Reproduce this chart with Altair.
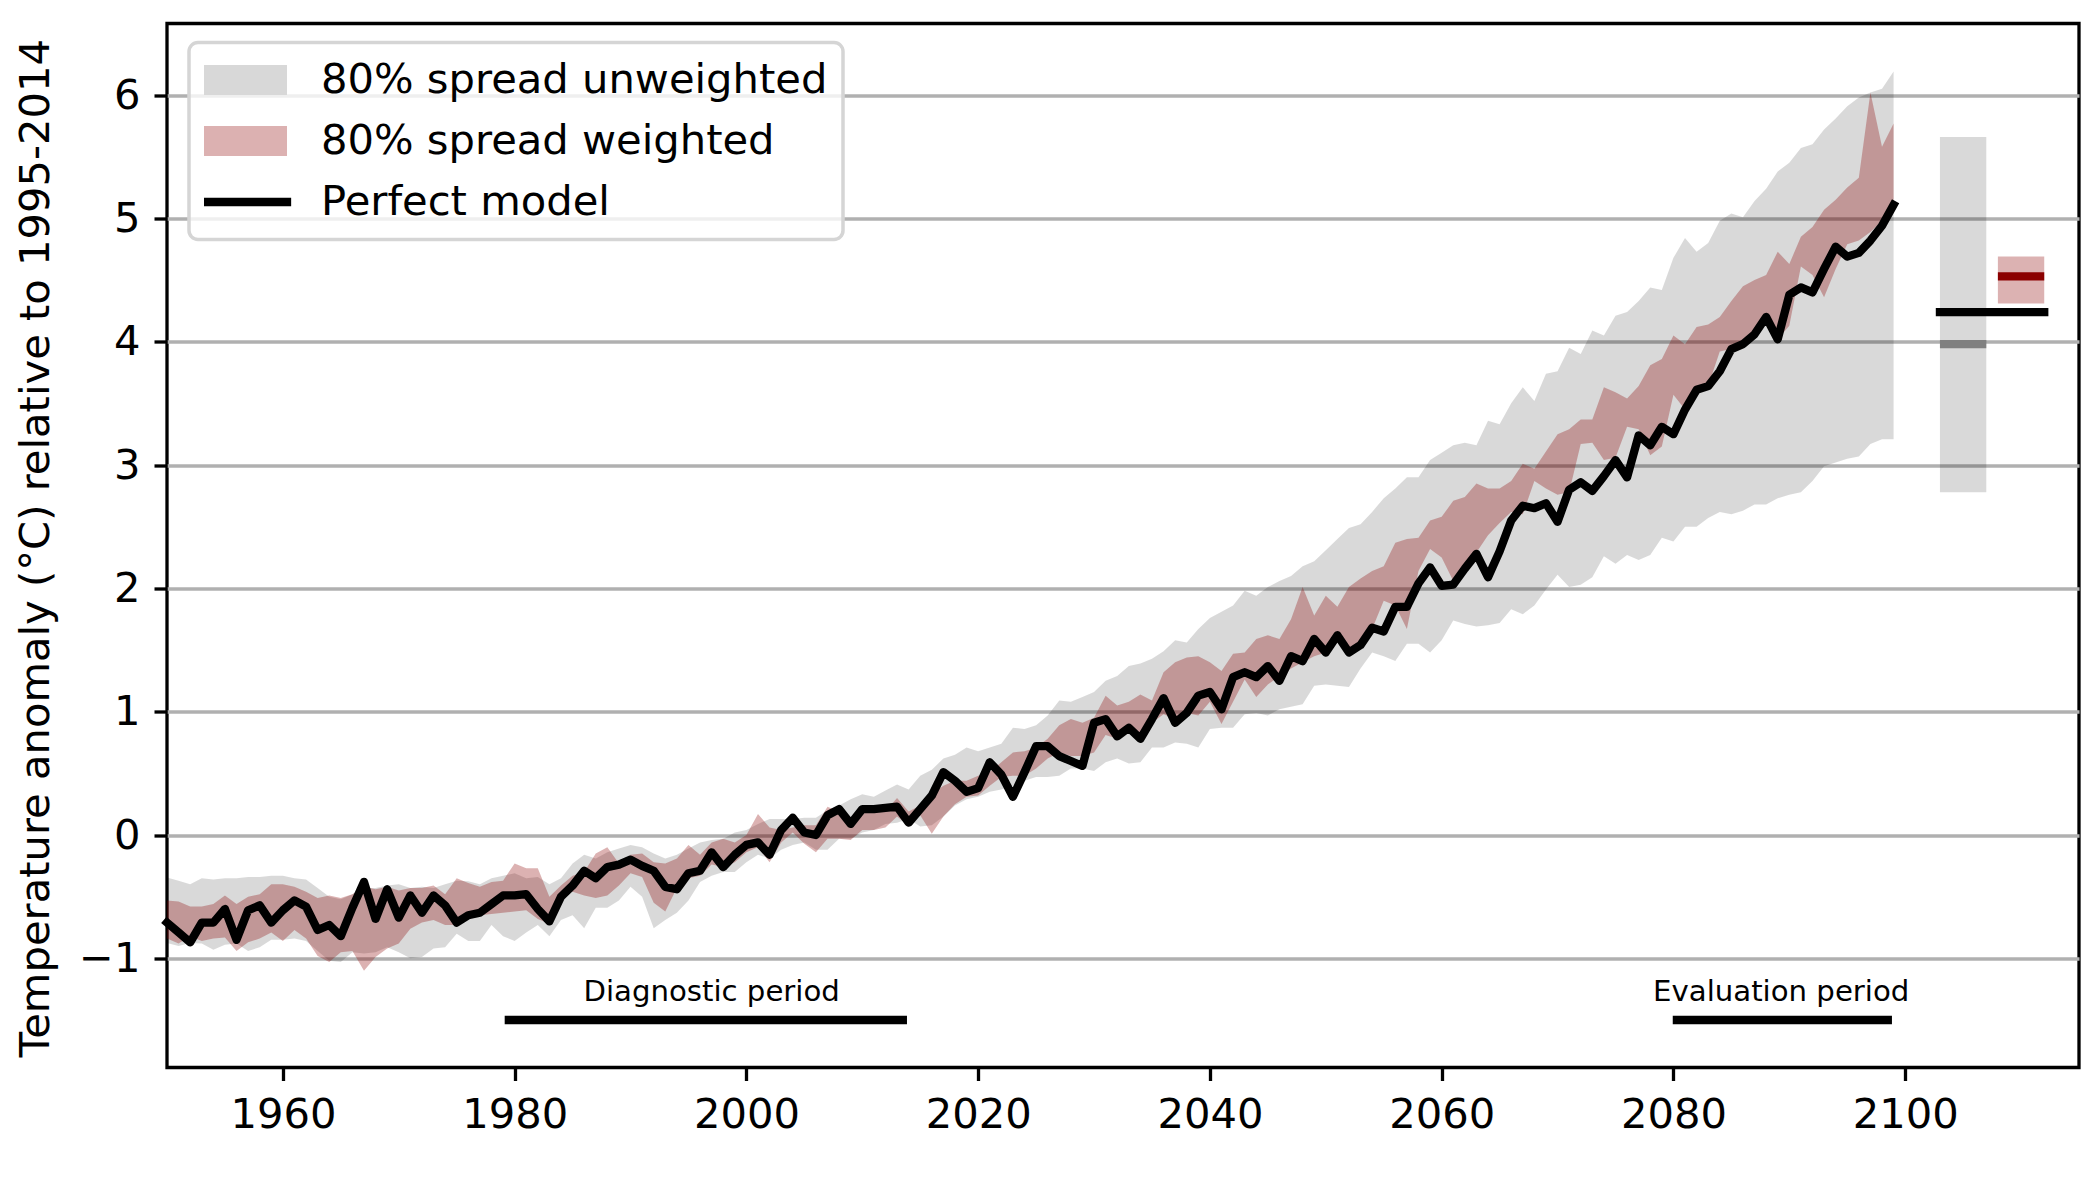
import altair as alt
import pandas as pd

# ---------------------------------------------------------------------------
# Annual global temperature anomaly (°C, relative to 1995-2014), 1950-2099
# ---------------------------------------------------------------------------
YEARS = list(range(1950, 2100))

PERFECT = [
    -0.71, -0.79, -0.87, -0.71, -0.71, -0.60, -0.85, -0.61, -0.57, -0.71,  # 1950s
    -0.61, -0.53, -0.58, -0.77, -0.73, -0.82, -0.59, -0.38, -0.68, -0.44,  # 1960s
    -0.67, -0.49, -0.63, -0.49, -0.57, -0.71, -0.65, -0.63, -0.56, -0.49,  # 1970s
    -0.49, -0.48, -0.60, -0.70, -0.50, -0.41, -0.29, -0.35, -0.26, -0.24,  # 1980s
    -0.20, -0.25, -0.29, -0.42, -0.44, -0.31, -0.29, -0.14, -0.26, -0.16,  # 1990s
    -0.08, -0.06, -0.16, 0.04, 0.14, 0.02, 0.00, 0.16, 0.21, 0.09,  # 2000s
    0.21, 0.21, 0.22, 0.23, 0.10, 0.21, 0.32, 0.51, 0.44, 0.35,  # 2010s
    0.38, 0.59, 0.49, 0.31, 0.51, 0.72, 0.72, 0.64, 0.60, 0.56,  # 2020s
    0.91, 0.94, 0.80, 0.87, 0.78, 0.94, 1.11, 0.91, 0.99, 1.13,  # 2030s
    1.16, 1.02, 1.28, 1.32, 1.28, 1.37, 1.25, 1.45, 1.41, 1.59,  # 2040s
    1.48, 1.62, 1.48, 1.54, 1.68, 1.65, 1.85, 1.85, 2.04, 2.17,  # 2050s
    2.02, 2.03, 2.16, 2.28, 2.09, 2.30, 2.55, 2.67, 2.65, 2.69,  # 2060s
    2.54, 2.80, 2.86, 2.79, 2.91, 3.04, 2.90, 3.24, 3.16, 3.31,  # 2070s
    3.25, 3.45, 3.61, 3.64, 3.76, 3.94, 3.98, 4.06, 4.20, 4.02,  # 2080s
    4.38, 4.44, 4.40, 4.59, 4.77, 4.69, 4.72, 4.82, 4.94, 5.11,  # 2090s
]

# 80% spread of the unweighted ensemble
UNW_LO = [
    -0.875, -0.90, -0.875, -0.88, -0.93, -0.89, -0.88, -0.94, -0.91, -0.85,
    -0.85, -0.84, -0.86, -0.94, -1.02, -1.03, -0.95, -0.96, -0.95, -0.91,
    -0.95, -1.00, -0.99, -0.92, -0.91, -0.80, -0.86, -0.86, -0.73, -0.82,
    -0.86, -0.79, -0.73, -0.82, -0.69, -0.65, -0.755, -0.59, -0.59, -0.53,
    -0.42, -0.50, -0.755, -0.69, -0.63, -0.53, -0.38, -0.33, -0.30, -0.30,
    -0.22, -0.16, -0.19, -0.12, -0.08, -0.06, -0.12, -0.12, -0.03, -0.03,
    0.02, 0.04, 0.09, 0.10, 0.13, 0.07, 0.08, 0.15, 0.24, 0.29,
    0.31, 0.35, 0.37, 0.40, 0.44, 0.47, 0.47, 0.48, 0.54, 0.54,
    0.52, 0.59, 0.62, 0.58, 0.59, 0.71, 0.71, 0.75, 0.74, 0.71,
    0.86, 0.87, 0.87, 0.98, 0.99, 0.97, 1.02, 1.04, 1.06, 1.21,
    1.22, 1.21, 1.20, 1.35, 1.48, 1.45, 1.41, 1.55, 1.55, 1.48,
    1.58, 1.74, 1.71, 1.69, 1.70, 1.72, 1.83, 1.79, 1.86, 1.99,
    2.11, 2.01, 2.03, 2.09, 2.26, 2.20, 2.27, 2.23, 2.27, 2.41,
    2.38, 2.50, 2.50, 2.57, 2.62, 2.60, 2.63, 2.68, 2.68, 2.73,
    2.76, 2.78, 2.87, 2.99, 3.02, 3.05, 3.07, 3.17, 3.21, 3.21,
]
UNW_HI = [
    -0.345, -0.37, -0.40, -0.35, -0.36, -0.35, -0.35, -0.34, -0.34, -0.33,
    -0.33, -0.35, -0.36, -0.43, -0.50, -0.52, -0.48, -0.43, -0.43, -0.41,
    -0.40, -0.43, -0.42, -0.43, -0.40, -0.37, -0.375, -0.40, -0.35, -0.33,
    -0.31, -0.35, -0.34, -0.40, -0.35, -0.23, -0.16, -0.19, -0.14, -0.11,
    -0.08, -0.10, -0.15, -0.19, -0.16, -0.11, -0.06, -0.04, -0.03, 0.02,
    0.04, 0.09, 0.13, 0.13, 0.13, 0.14, 0.14, 0.20, 0.24, 0.29,
    0.33, 0.31, 0.36, 0.41, 0.37, 0.48, 0.53, 0.62, 0.65, 0.71,
    0.68, 0.71, 0.74, 0.87, 0.86, 0.89, 0.97, 1.09, 1.08, 1.12,
    1.16, 1.25, 1.29, 1.37, 1.39, 1.43, 1.49, 1.58, 1.56, 1.67,
    1.76, 1.81, 1.86, 1.98, 1.94, 2.01, 2.06, 2.10, 2.18, 2.22,
    2.31, 2.40, 2.49, 2.52, 2.62, 2.73, 2.81, 2.90, 2.90, 3.04,
    3.10, 3.16, 3.18, 3.16, 3.36, 3.33, 3.50, 3.63, 3.52, 3.74,
    3.76, 3.95, 3.90, 4.09, 4.05, 4.21, 4.24, 4.33, 4.44, 4.42,
    4.68, 4.84, 4.73, 4.80, 4.98, 5.04, 5.01, 5.14, 5.24, 5.38,
    5.45, 5.57, 5.60, 5.72, 5.81, 5.91, 5.98, 6.02, 6.05, 6.19,
]

# 80% spread of the weighted ensemble
W_LO = [
    -0.84, -0.88, -0.82, -0.86, -0.84, -0.83, -0.94, -0.87, -0.84, -0.79,
    -0.86, -0.77, -0.84, -0.98, -1.03, -0.95, -0.94, -1.10, -0.99, -0.92,
    -0.88, -0.76, -0.71, -0.69, -0.73, -0.73, -0.68, -0.65, -0.64, -0.63,
    -0.62, -0.61, -0.68, -0.72, -0.49, -0.46, -0.49, -0.51, -0.49, -0.41,
    -0.31, -0.34, -0.55, -0.62, -0.43, -0.35, -0.33, -0.24, -0.26, -0.22,
    -0.14, -0.10, -0.22, -0.06, 0.02, -0.07, -0.14, -0.03, -0.03, -0.04,
    0.04, 0.04, 0.06, 0.15, 0.08, 0.16, 0.01, 0.15, 0.25, 0.31,
    0.32, 0.40, 0.47, 0.48, 0.48, 0.54, 0.62, 0.67, 0.64, 0.64,
    0.67, 0.81, 0.78, 0.86, 0.83, 0.91, 0.98, 0.94, 0.99, 0.97,
    1.08, 0.90, 1.08, 1.26, 1.12, 1.22, 1.29, 1.35, 1.40, 1.45,
    1.48, 1.59, 1.48, 1.54, 1.67, 1.90, 1.86, 1.67, 2.14, 2.32,
    2.25, 2.06, 2.16, 2.29, 2.43, 2.53, 2.62, 2.60, 2.87, 2.81,
    2.76, 2.78, 3.17, 3.18, 3.04, 3.06, 3.31, 3.29, 3.08, 3.15,
    3.57, 3.45, 3.59, 3.64, 3.92, 3.94, 4.01, 4.08, 4.15, 4.02,
    4.13, 4.61, 4.54, 4.36, 4.59, 4.79, 4.82, 4.89, 4.98, 5.10,
]
W_HI = [
    -0.53, -0.54, -0.58, -0.58, -0.56, -0.49, -0.56, -0.50, -0.48, -0.40,
    -0.40, -0.42, -0.46, -0.51, -0.49, -0.51, -0.48, -0.42, -0.44, -0.42,
    -0.45, -0.43, -0.43, -0.41, -0.48, -0.35, -0.39, -0.42, -0.38, -0.37,
    -0.23, -0.27, -0.27, -0.50, -0.41, -0.33, -0.30, -0.15, -0.10, -0.23,
    -0.16, -0.15, -0.22, -0.23, -0.19, -0.08, -0.16, -0.06, -0.03, -0.06,
    0.00, 0.17, 0.06, 0.04, 0.06, 0.08, 0.08, 0.23, 0.19, 0.13,
    0.20, 0.20, 0.19, 0.30, 0.19, 0.24, 0.33, 0.40, 0.44, 0.44,
    0.48, 0.51, 0.59, 0.67, 0.68, 0.71, 0.78, 0.89, 0.94, 0.91,
    0.95, 1.13, 1.05, 1.08, 1.14, 1.09, 1.32, 1.40, 1.44, 1.45,
    1.40, 1.33, 1.47, 1.48, 1.59, 1.62, 1.59, 1.75, 2.01, 1.78,
    1.94, 1.85, 2.01, 2.08, 2.14, 2.18, 2.37, 2.40, 2.41, 2.55,
    2.58, 2.71, 2.74, 2.85, 2.81, 2.81, 2.87, 3.01, 2.97, 3.11,
    3.25, 3.29, 3.37, 3.37, 3.63, 3.59, 3.54, 3.64, 3.81, 3.86,
    4.05, 3.98, 4.12, 4.14, 4.20, 4.33, 4.45, 4.50, 4.54, 4.73,
    4.63, 4.85, 4.93, 5.07, 5.15, 5.25, 5.33, 6.02, 5.58, 5.77,
]

# Evaluation-period summary (80% range and median of each ensemble)
SUMMARY_KIND = ["unweighted", "weighted"]
SUMMARY_LO = [2.78, 4.31]
SUMMARY_HI = [5.66, 4.69]
SUMMARY_MED = [3.98, 4.53]
SUMMARY_PERFECT = 4.24

# Diagnostic / evaluation periods
PERIODS = ["Diagnostic period", "Evaluation period"]
PERIOD_START = [1979.5, 2080.3]
PERIOD_END = [2013.5, 2098.5]
PERIOD_CENTER = [1997, 2089.3]
PERIOD_LEVEL = -1.5

LEGEND_LABELS = ["80% spread unweighted", "80% spread weighted", "Perfect model"]
X_TICKS = [1960, 1980, 2000, 2020, 2040, 2060, 2080, 2100]
Y_TICKS = [-1, 0, 1, 2, 3, 4, 5, 6]

# ---------------------------------------------------------------------------
FONT = "DejaVu Sans"
LW = 8.3
X_DOMAIN = [1950, 2115]
Y_DOMAIN = [-1.885, 6.58]
SUMMARY_X0 = [2103, 2108]
SUMMARY_X1 = [2107, 2112]
Y_TITLE = "Temperature anomaly (°C) relative to 1995-2014"

xs = alt.Scale(domain=X_DOMAIN, nice=False, zero=False)
ys = alt.Scale(domain=Y_DOMAIN, nice=False, zero=False)
x_axis = alt.Axis(values=X_TICKS, format="d", title=None, grid=False)
y_axis = alt.Axis(values=Y_TICKS, format="d", grid=True, title=Y_TITLE,
                  titleX=-119, titleY=524, titleAngle=270,
                  titleBaseline="alphabetic", titleAlign="center")


def X(field):
    return alt.X(field, scale=xs, axis=x_axis)


def Y(field):
    return alt.Y(field, scale=ys, axis=y_axis)


series = pd.DataFrame({
    "year": YEARS, "perfect": PERFECT,
    "unw_lo": UNW_LO, "unw_hi": UNW_HI, "w_lo": W_LO, "w_hi": W_HI,
})

unweighted = alt.Chart(series).mark_area(color="black", opacity=0.15).encode(
    x=X("year:Q"), y=Y("unw_lo:Q"), y2="unw_hi:Q",
)

weighted = alt.Chart(series).mark_area(color="darkred", opacity=0.3).encode(
    x=X("year:Q"), y=Y("w_lo:Q"), y2="w_hi:Q",
)

perfect = alt.Chart(series).mark_line(
    color="black", strokeWidth=LW, strokeJoin="round", strokeCap="square"
).encode(x=X("year:Q"), y=Y("perfect:Q"))

summary = pd.DataFrame({
    "kind": SUMMARY_KIND, "lo": SUMMARY_LO, "hi": SUMMARY_HI, "med": SUMMARY_MED,
    "x0": SUMMARY_X0, "x1": SUMMARY_X1,
})

summary_boxes = alt.Chart(summary).mark_rect().encode(
    x=X("x0:Q"), x2="x1:Q", y=Y("lo:Q"), y2="hi:Q",
    color=alt.Color("kind:N", scale=alt.Scale(domain=SUMMARY_KIND, range=["black", "darkred"]),
                    legend=None),
    opacity=alt.Opacity("kind:N", scale=alt.Scale(domain=SUMMARY_KIND, range=[0.15, 0.3]),
                        legend=None),
)

summary_medians = alt.Chart(summary).mark_rule(strokeWidth=LW).encode(
    x=X("x0:Q"), x2="x1:Q", y=Y("med:Q"),
    stroke=alt.Stroke("kind:N", scale=alt.Scale(domain=SUMMARY_KIND, range=["grey", "darkred"]),
                      legend=None),
)

perfect_summary = alt.Chart(pd.DataFrame({
    "x0": [SUMMARY_X0[0]], "x1": [SUMMARY_X1[1]], "value": [SUMMARY_PERFECT]
})).mark_rule(color="black", strokeWidth=LW, strokeCap="square").encode(
    x=X("x0:Q"), x2="x1:Q", y=Y("value:Q"),
)

periods = pd.DataFrame({
    "label": PERIODS, "start": PERIOD_START, "end": PERIOD_END,
    "center": PERIOD_CENTER, "level": [PERIOD_LEVEL] * len(PERIODS),
})

period_rules = alt.Chart(periods).mark_rule(
    color="black", strokeWidth=LW, strokeCap="square"
).encode(x=X("start:Q"), x2="end:Q", y=Y("level:Q"))

period_labels = alt.Chart(periods).mark_text(
    font=FONT, fontSize=29.2, color="black", align="center",
    baseline="alphabetic", dy=-19,
).encode(x=X("center:Q"), y=Y("level:Q"), text="label:N")

# legend: a clipped, off-domain point layer carries the fill/shape legend
SWATCH = "M-1,-0.36L1,-0.36L1,0.36L-1,0.36Z"
STROKE = "M-1.1,-0.1L1.1,-0.1L1.1,0.1L-1.1,0.1Z"
legend_props = dict(
    title=None, orient="none", legendX=22, legendY=19,
    symbolSize=6889, symbolStrokeWidth=0, symbolOpacity=1,
    labelFont=FONT, labelFontSize=41.67, labelColor="black", labelOffset=34,
    labelLimit=1000, clipHeight=45, rowPadding=16, padding=15,
    strokeColor="#d5d5d5", cornerRadius=9, fillColor="rgba(255,255,255,0.8)",
)
legend_layer = alt.Chart(pd.DataFrame({
    "series": LEGEND_LABELS, "year": [1900] * 3, "value": [0] * 3
})).mark_point(filled=True, clip=True).encode(
    x=X("year:Q"), y=Y("value:Q"),
    fill=alt.Fill("series:N",
                  scale=alt.Scale(domain=LEGEND_LABELS, range=["#d8d8d8", "#dcb1b1", "black"]),
                  legend=alt.Legend(**legend_props)),
    shape=alt.Shape("series:N",
                    scale=alt.Scale(domain=LEGEND_LABELS, range=[SWATCH, SWATCH, STROKE]),
                    legend=alt.Legend(**legend_props)),
)

chart = alt.layer(
    unweighted, weighted, perfect,
    summary_boxes, summary_medians, perfect_summary,
    period_rules, period_labels, legend_layer,
).properties(
    width=1912, height=1044,
    autosize=alt.AutoSizeParams(type="none"),
    padding={"left": 167, "top": 23.5, "right": 21, "bottom": 132.5},
    background="white",
).configure_view(
    stroke="black", strokeWidth=3.3,
).configure_axis(
    labelFont=FONT, labelFontSize=41.67, labelColor="black",
    titleFont=FONT, titleFontSize=41.67, titleFontWeight="normal", titleColor="black",
    domain=False, ticks=True, tickColor="black", tickWidth=3.3, tickSize=13,
    labelPadding=14, gridColor="#b0b0b0", gridWidth=3.3, gridOpacity=1,
).configure_legend(
    strokeWidth=3.5,
)

chart.save("out.html", embed_options={"renderer": "svg", "actions": False})
